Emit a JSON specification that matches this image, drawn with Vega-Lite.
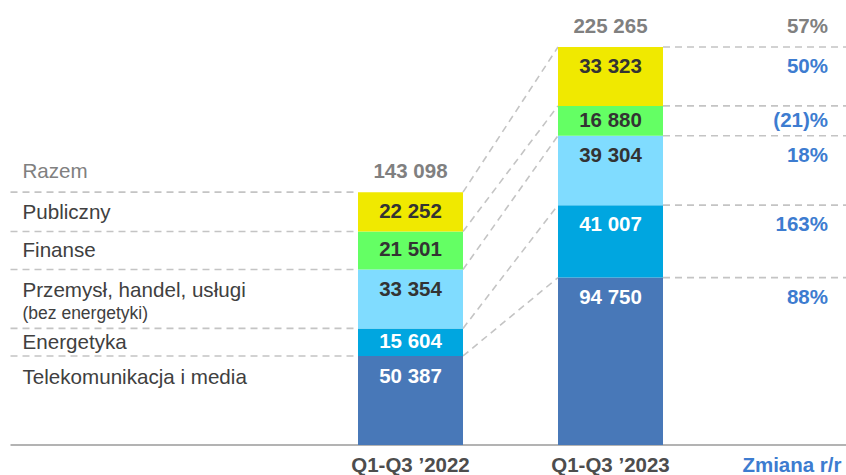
{
  "$schema": "https://vega.github.io/schema/vega-lite/v6.json",
  "width": 846,
  "height": 475,
  "autosize": "none",
  "padding": 0,
  "background": "white",
  "config": {"view": {"stroke": null}, "text": {"font": "Liberation Sans"}},
  "datasets": {
    "sectors": [
      {"sector": "Telekomunikacja i media", "note": "", "ord": 1, "v2022": 50387, "v2023": 94750, "chg": 88},
      {"sector": "Energetyka", "note": "", "ord": 2, "v2022": 15604, "v2023": 41007, "chg": 163},
      {"sector": "Przemysł, handel, usługi", "note": "(bez energetyki)", "ord": 3, "v2022": 33354, "v2023": 39304, "chg": 18},
      {"sector": "Finanse", "note": "", "ord": 4, "v2022": 21501, "v2023": 16880, "chg": -21},
      {"sector": "Publiczny", "note": "", "ord": 5, "v2022": 22252, "v2023": 33323, "chg": 50}
    ],
    "totals": [
      {"label": "Razem", "t2022": 143098, "t2023": 225265, "chg": 57}
    ],
    "one": [{}]
  },
  "layer": [
    {
      "data": {"name": "one"},
      "mark": {"type": "rule", "color": "#b3b3b3", "strokeWidth": 2},
      "encoding": {
        "x": {"datum": -1.0, "type": "quantitative", "scale": {"domain": [-1.0525, 3.1775], "nice": false, "zero": false}, "axis": null},
        "x2": {"datum": 3.1775},
        "y": {"datum": 0, "type": "quantitative", "scale": {"domain": [-16980, 251868], "nice": false, "zero": false}, "axis": null}
      }
    },
    {
      "data": {"name": "sectors"},
      "transform": [
        {"window": [{"op": "sum", "field": "v2022", "as": "hi22"}, {"op": "sum", "field": "v2023", "as": "hi23"}], "sort": [{"field": "ord"}], "frame": [null, 0]}
      ],
      "layer": [
        {
          "mark": {"type": "rule", "color": "#c4c4c4", "strokeWidth": 1.6, "strokeDash": [7, 5]},
          "encoding": {
            "x": {"datum": -1.0, "type": "quantitative"},
            "x2": {"datum": 0.7375},
            "y": {"field": "hi22", "type": "quantitative"}
          }
        },
        {
          "mark": {"type": "rule", "color": "#c4c4c4", "strokeWidth": 1.6, "strokeDash": [7, 5]},
          "encoding": {
            "x": {"datum": 1.2625, "type": "quantitative"},
            "x2": {"datum": 1.7375},
            "y": {"field": "hi22", "type": "quantitative"},
            "y2": {"field": "hi23"}
          }
        },
        {
          "mark": {"type": "rule", "color": "#c4c4c4", "strokeWidth": 1.6, "strokeDash": [7, 5]},
          "encoding": {
            "x": {"datum": 2.2625, "type": "quantitative"},
            "x2": {"datum": 3.1775},
            "y": {"field": "hi23", "type": "quantitative"}
          }
        },
        {
          "transform": [{"calculate": "datum.hi22 - datum.v2022", "as": "lo22"}],
          "mark": {"type": "bar"},
          "encoding": {
            "x": {"datum": 0.7375, "type": "quantitative"},
            "x2": {"datum": 1.2625},
            "y": {"field": "lo22", "type": "quantitative"},
            "y2": {"field": "hi22"},
            "color": {"field": "sector", "type": "nominal", "legend": null,
              "scale": {"domain": ["Telekomunikacja i media", "Energetyka", "Przemysł, handel, usługi", "Finanse", "Publiczny"],
                        "range": ["#4878b8", "#00a6e0", "#80dcff", "#64ff64", "#f0e900"]}}
          }
        },
        {
          "transform": [{"calculate": "datum.hi23 - datum.v2023", "as": "lo23"}],
          "mark": {"type": "bar"},
          "encoding": {
            "x": {"datum": 1.7375, "type": "quantitative"},
            "x2": {"datum": 2.2625},
            "y": {"field": "lo23", "type": "quantitative"},
            "y2": {"field": "hi23"},
            "color": {"field": "sector", "type": "nominal", "legend": null}
          }
        },
        {
          "transform": [
            {"calculate": "max(datum.hi22 - datum.v2022 / 2, datum.hi22 - 11800)", "as": "ly22"},
            {"calculate": "replace(format(datum.v2022, ','), ',', ' ')", "as": "lab22"}
          ],
          "layer": [
            {
              "mark": {"type": "text", "align": "left", "baseline": "middle", "fontSize": 20.6, "color": "#404040", "dy": 1},
              "encoding": {
                "x": {"datum": -0.94, "type": "quantitative"},
                "y": {"field": "ly22", "type": "quantitative"},
                "text": {"field": "sector"}
              }
            },
            {
              "mark": {"type": "text", "align": "left", "baseline": "middle", "fontSize": 17.5, "color": "#404040", "dy": 24},
              "encoding": {
                "x": {"datum": -0.94, "type": "quantitative"},
                "y": {"field": "ly22", "type": "quantitative"},
                "text": {"field": "note"}
              }
            },
            {
              "mark": {"type": "text", "align": "center", "baseline": "middle", "fontSize": 20.5, "fontWeight": "bold"},
              "encoding": {
                "x": {"datum": 1, "type": "quantitative"},
                "y": {"field": "ly22", "type": "quantitative"},
                "text": {"field": "lab22"},
                "color": {"condition": {"test": "datum.ord <= 2", "value": "#ffffff"}, "value": "#333333"}
              }
            }
          ]
        },
        {
          "transform": [
            {"calculate": "max(datum.hi23 - datum.v2023 / 2, datum.hi23 - 11500)", "as": "ly23"},
            {"calculate": "replace(format(datum.v2023, ','), ',', ' ')", "as": "lab23"},
            {"calculate": "datum.chg < 0 ? '(' + (-datum.chg) + ')%' : datum.chg + '%'", "as": "chgLab"}
          ],
          "layer": [
            {
              "mark": {"type": "text", "align": "center", "baseline": "middle", "fontSize": 20.5, "fontWeight": "bold"},
              "encoding": {
                "x": {"datum": 2, "type": "quantitative"},
                "y": {"field": "ly23", "type": "quantitative"},
                "text": {"field": "lab23"},
                "color": {"condition": {"test": "datum.ord <= 2", "value": "#ffffff"}, "value": "#333333"}
              }
            },
            {
              "mark": {"type": "text", "align": "right", "baseline": "middle", "fontSize": 20.5, "fontWeight": "bold", "color": "#3d7cd0"},
              "encoding": {
                "x": {"datum": 3.0875, "type": "quantitative"},
                "y": {"field": "ly23", "type": "quantitative"},
                "text": {"field": "chgLab"}
              }
            }
          ]
        }
      ]
    },
    {
      "data": {"name": "totals"},
      "transform": [
        {"calculate": "replace(format(datum.t2022, ','), ',', ' ')", "as": "lab22"},
        {"calculate": "replace(format(datum.t2023, ','), ',', ' ')", "as": "lab23"},
        {"calculate": "datum.chg + '%'", "as": "chgLab"}
      ],
      "layer": [
        {
          "mark": {"type": "text", "align": "left", "baseline": "middle", "fontSize": 20.6, "color": "#808080", "dy": -20},
          "encoding": {
            "x": {"datum": -0.94, "type": "quantitative"},
            "y": {"field": "t2022", "type": "quantitative"},
            "text": {"field": "label"}
          }
        },
        {
          "mark": {"type": "text", "align": "center", "baseline": "middle", "fontSize": 20.5, "fontWeight": "bold", "color": "#808080", "dy": -20},
          "encoding": {
            "x": {"datum": 1, "type": "quantitative"},
            "y": {"field": "t2022", "type": "quantitative"},
            "text": {"field": "lab22"}
          }
        },
        {
          "mark": {"type": "text", "align": "center", "baseline": "middle", "fontSize": 20.5, "fontWeight": "bold", "color": "#808080", "dy": -20},
          "encoding": {
            "x": {"datum": 2, "type": "quantitative"},
            "y": {"field": "t2023", "type": "quantitative"},
            "text": {"field": "lab23"}
          }
        },
        {
          "mark": {"type": "text", "align": "right", "baseline": "middle", "fontSize": 20.5, "fontWeight": "bold", "color": "#808080", "dy": -20},
          "encoding": {
            "x": {"datum": 3.0875, "type": "quantitative"},
            "y": {"field": "t2023", "type": "quantitative"},
            "text": {"field": "chgLab"}
          }
        }
      ]
    },
    {
      "data": {"name": "one"},
      "layer": [
        {
          "mark": {"type": "text", "align": "center", "baseline": "middle", "fontSize": 20.5, "fontWeight": "bold", "color": "#4d4d4d", "text": "Q1-Q3 ’2022"},
          "encoding": {
            "x": {"datum": 1, "type": "quantitative"},
            "y": {"datum": -11886, "type": "quantitative"}
          }
        },
        {
          "mark": {"type": "text", "align": "center", "baseline": "middle", "fontSize": 20.5, "fontWeight": "bold", "color": "#4d4d4d", "text": "Q1-Q3 ’2023"},
          "encoding": {
            "x": {"datum": 2, "type": "quantitative"},
            "y": {"datum": -11886, "type": "quantitative"}
          }
        },
        {
          "mark": {"type": "text", "align": "right", "baseline": "middle", "fontSize": 20.5, "fontWeight": "bold", "color": "#3d7cd0", "text": "Zmiana r/r"},
          "encoding": {
            "x": {"datum": 3.155, "type": "quantitative"},
            "y": {"datum": -11886, "type": "quantitative"}
          }
        }
      ]
    }
  ]
}
